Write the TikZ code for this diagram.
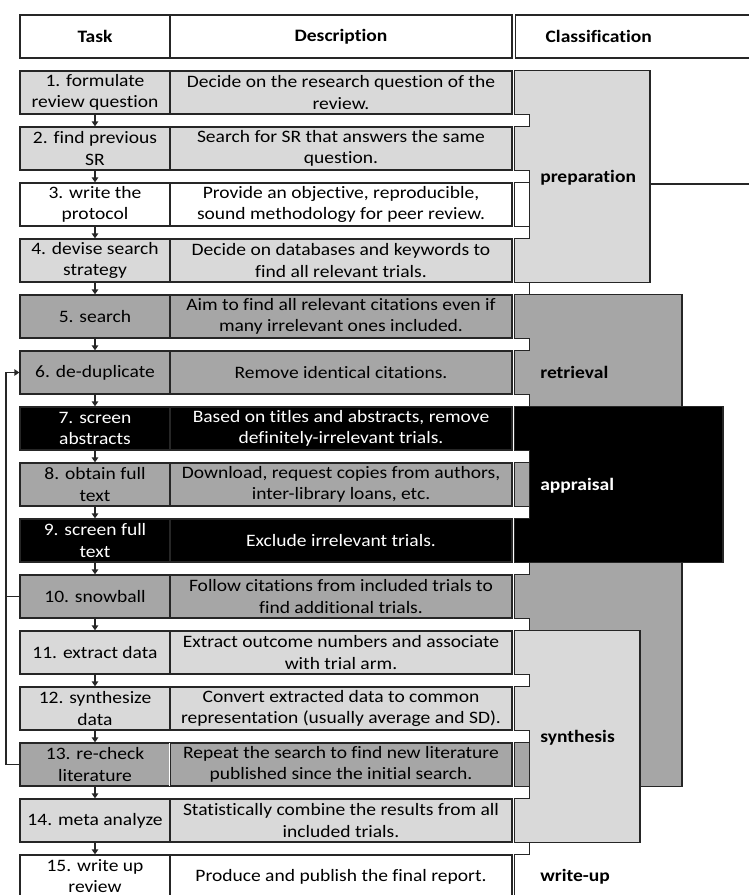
\documentclass[tikz,border=0pt]{standalone}
\usepackage{fontspec}
\setmainfont{Carlito}[FakeStretch=1.12, Ligatures=NoCommon]
\usepackage{tikz}
\usetikzlibrary{arrows.meta,positioning,calc}
\usepackage{xcolor}
\definecolor{revlight}{HTML}{D9D9D9}
\definecolor{revmid}{HTML}{A6A6A6}
\definecolor{revline}{HTML}{262626}

\begin{document}
\begin{tikzpicture}[x=0.025cm, y=-0.025cm,
  task/.style={draw=revline, line width=0.9pt, minimum width=3.75cm, minimum height=1.075cm, inner sep=1pt, align=center},
  desc/.style={task, minimum width=8.55cm},
  head/.style={task, font=\fontsize{12.4}{15}\selectfont\bfseries},
  tabspot/.style={minimum width=0.35cm, minimum height=1.075cm, inner sep=0pt},
  cat/.style={draw=revline, line width=0.9pt},
  catlabel/.style={anchor=west, inner sep=0pt, font=\fontsize{12.4}{15}\selectfont\bfseries},
  arrow/.style={-{Triangle[length=3.5pt, width=4.5pt]}, line width=0.9pt, draw=revline},
  every node/.style={font=\fontsize{12.4}{15}\selectfont},
]
\useasboundingbox (0,0) rectangle (749,895);

% Header
\node[head] (htask) at (95,36.5) {Task};
\node[head, minimum width=8.55cm] (hdesc) at (341,36.5) {Description};
\node[head, anchor=west, inner xsep=0.75cm, text width=6cm, align=left] (hcls) at (515,36.5) {Classification};

% Tasks and descriptions (top to bottom)
\node[task, fill=revlight] (t1) at (95,92.5) {1. formulate\\review question};
\node[desc, fill=revlight] (d1) at (341,92.5) {Decide on the research question of the\\review.};
\node[task, fill=revlight] (t2) at (95,148.5) {2. find previous\\SR};
\node[desc, fill=revlight] (d2) at (341,148.5) {Search for SR that answers the same\\question.};
\node[task, fill=white] (t3) at (95,204.5) {3. write the\\protocol};
\node[desc, fill=white] (d3) at (341,204.5) {Provide an objective, reproducible,\\sound methodology for peer review.};
\node[task, fill=revlight] (t4) at (95,260.5) {4. devise search\\strategy};
\node[desc, fill=revlight] (d4) at (341,260.5) {Decide on databases and keywords to\\find all relevant trials.};
\node[task, fill=revmid] (t5) at (95,316.5) {5. search};
\node[desc, fill=revmid] (d5) at (341,316.5) {Aim to find all relevant citations even if\\many irrelevant ones included.};
\node[task, fill=revmid] (t6) at (95,372.5) {6. de-duplicate};
\node[desc, fill=revmid] (d6) at (341,372.5) {Remove identical citations.};
\node[task, fill=black, text=white] (t7) at (95,428.5) {7. screen\\abstracts};
\node[desc, fill=black, text=white] (d7) at (341,428.5) {Based on titles and abstracts, remove\\definitely-irrelevant trials.};
\node[task, fill=revmid] (t8) at (95,484.5) {8. obtain full\\text};
\node[desc, fill=revmid] (d8) at (341,484.5) {Download, request copies from authors,\\inter-library loans, etc.};
\node[task, fill=black, text=white] (t9) at (95,540.5) {9. screen full\\text};
\node[desc, fill=black, text=white] (d9) at (341,540.5) {Exclude irrelevant trials.};
\node[task, fill=revmid] (t10) at (95,596.5) {10. snowball};
\node[desc, fill=revmid] (d10) at (341,596.5) {Follow citations from included trials to\\find additional trials.};
\node[task, fill=revlight] (t11) at (95,652.5) {11. extract data};
\node[desc, fill=revlight] (d11) at (341,652.5) {Extract outcome numbers and associate\\with trial arm.};
\node[task, fill=revlight] (t12) at (95,708.5) {12. synthesize\\data};
\node[desc, fill=revlight] (d12) at (341,708.5) {Convert extracted data to common\\representation (usually average and SD).};
\node[task, fill=revmid] (t13) at (95,764.5) {13. re-check\\literature};
\node[desc, fill=revmid] (d13) at (341,764.5) {Repeat the search to find new literature\\published since the initial search.};
\node[task, fill=revlight] (t14) at (95,820.5) {14. meta analyze};
\node[desc, fill=revlight] (d14) at (341,820.5) {Statistically combine the results from all\\included trials.};
\node[task, fill=white] (t15) at (95,876.5) {15. write up\\review};
\node[desc, fill=white] (d15) at (341,876.5) {Produce and publish the final report.};
\draw[white, line width=0.6pt] ([yshift=-0.5pt]d13.north west) -- ([yshift=0.5pt]d13.south west);

% Arrows between tasks
\foreach \i [count=\j from 2] in {1,...,14}
  \draw[arrow] (t\i.south) -- (t\j.north);

% Feedback loop (snowball / re-check back to de-duplicate)
\coordinate (lp) at (6,0);
\draw[arrow] (t13.west) -- (t13.west -| lp) -- (t6.west -| lp) -- (t6.west);
\draw[cat] (t10.west) -- (t10.west -| lp);

% Tab spots in the classification column
\foreach \i/\y in {1/92.5,2/148.5,3/204.5,4/260.5,5/316.5,6/372.5,7/428.5,8/484.5,
                   9/540.5,10/596.5,11/652.5,12/708.5,13/764.5,14/820.5,15/876.5}
  \node[tabspot] (c\i) at (522,\y) {};

% Right edges of the classification boxes
\coordinate (pr) at (650,184);
\coordinate (prout) at (760,184);
\coordinate (rr) at (682,0);
\coordinate (ar) at (723,0);
\coordinate (sr) at (640,0);

% Retrieval (behind appraisal and synthesis)
\draw[cat, fill=revmid] (c5.north west) -- (c5.north west -| rr) -- (c13.south west -| rr)
  -- (c13.south east) -- (c10.south east) -- (c10.south west) -- (c10.north west)
  -- (c10.north east) -- (c6.south east) -- (c6.south west) -- (c6.north west)
  -- (c6.north east) -- (c5.south east) -- (c5.south west) -- cycle;

% Appraisal
\draw[cat, fill=black] (c7.north west) -- (c7.north west -| ar) -- (c9.south west -| ar)
  -- (c9.south west) -- (c9.north west) -- (c9.north east) -- (c7.south east)
  -- (c7.south west) -- cycle;
\draw[cat, fill=revmid] (c8.north west) rectangle (c8.south east);

% Synthesis
\draw[cat, fill=revlight] (c11.north west) -- (c11.north west -| sr) -- (c14.south west -| sr)
  -- (c14.south west) -- (c14.north west) -- (c14.north east) -- (c12.south east)
  -- (c12.south west) -- (c12.north west) -- (c12.north east) -- (c11.south east)
  -- (c11.south west) -- cycle;
\draw[cat, fill=revmid] (c13.north west) rectangle (c13.south east);

% Preparation
\draw[cat, fill=revlight] (c1.north west) -- (c1.north west -| pr) -- (c4.south west -| pr)
  -- (c4.south west) -- (c4.north west) -- (c4.north east) -- (c2.south east)
  -- (c2.south west) -- (c2.north west) -- (c2.north east) -- (c1.south east)
  -- (c1.south west) -- cycle;
\draw[cat, fill=white] (c3.north west) rectangle (c3.south east);
\draw[cat] (pr) -- (prout);
\draw[cat] (c4.south east) -- (c5.north east);

% Write-up
\draw[cat, fill=white] (c14.south east) -- (c15.north east) -- (c15.north west) -- (c15.south west);

% Labels
\node[catlabel] (lprep) at (540,178) {preparation};
\node[catlabel] (lretr) at (540,372.5) {retrieval};
\node[catlabel, text=white] (lappr) at (540,486) {appraisal};
\node[catlabel] (lsynt) at (540,737.5) {synthesis};
\node[catlabel] (lwrup) at (540,876.5) {write-up};

\end{tikzpicture}
\end{document}
